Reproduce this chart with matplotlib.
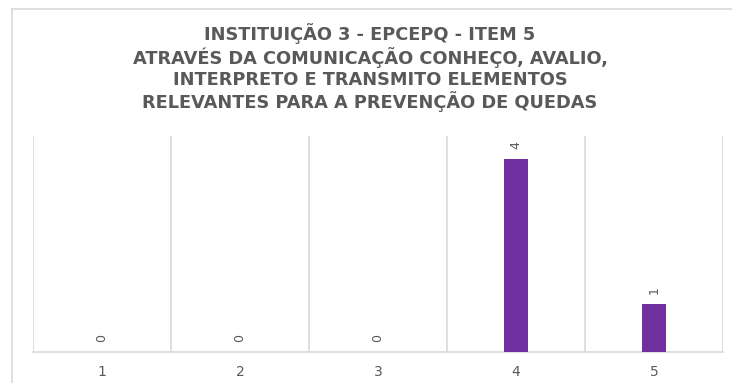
import matplotlib.pyplot as plt
from matplotlib.lines import Line2D

# data
categories = ["1", "2", "3", "4", "5"]
counts = [0, 0, 0, 4, 1]
title_lines = [
    "INSTITUIÇÃO 3 - EPCEPQ - ITEM 5",
    "ATRAVÉS DA COMUNICAÇÃO CONHEÇO, AVALIO,",
    "INTERPRETO E TRANSMITO ELEMENTOS",
    "RELEVANTES PARA A PREVENÇÃO DE QUEDAS",
]

grey_text = "#595959"
grid_col = "#d9d9d9"
bar_col = "#7030a0"

fig = plt.figure(figsize=(7.32, 3.83), dpi=100)
W, H = 732, 383

# outer chart frame: only top and left edges are visible in the crop
fig.add_artist(Line2D([12 / W, 1.0], [1 - 9 / H, 1 - 9 / H],
                      transform=fig.transFigure, color=grid_col, lw=1.2))
fig.add_artist(Line2D([12 / W, 12 / W], [0, 1 - 9 / H],
                      transform=fig.transFigure, color=grid_col, lw=1.2))

ax = fig.add_axes([33 / W, (H - 352) / H, (723 - 33) / W, (352 - 136) / H])

x = list(range(1, len(categories) + 1))
ax.bar(x, counts, width=0.18, color=bar_col, zorder=3)

for xi, v in zip(x, counts):
    ax.annotate(str(v), (xi, v), xytext=(0, 7), textcoords="offset points",
                ha="center", va="bottom", rotation=90, fontsize=9, color=grey_text)

ax.set_xlim(0.5, len(categories) + 0.5)
ax.set_ylim(0, 4.48)
ax.set_xticks(x)
ax.set_xticklabels(categories, fontsize=10, color=grey_text)
ax.tick_params(axis="x", length=0, pad=9)
ax.set_yticks([])

# vertical separators between categories
for b in [i + 0.5 for i in range(len(categories) + 1)]:
    ax.axvline(b, color=grid_col, lw=1.2, zorder=1)

for s in ["top", "left", "right"]:
    ax.spines[s].set_visible(False)
ax.spines["bottom"].set_color(grid_col)
ax.spines["bottom"].set_linewidth(1.2)

ys = [34, 58, 80, 102]
for line, yy in zip(title_lines, ys):
    fig.text(370 / W, 1 - yy / H, line, ha="center", va="center",
             fontsize=12.8, fontweight="bold", color=grey_text)

fig.savefig("out.png", dpi=100)
